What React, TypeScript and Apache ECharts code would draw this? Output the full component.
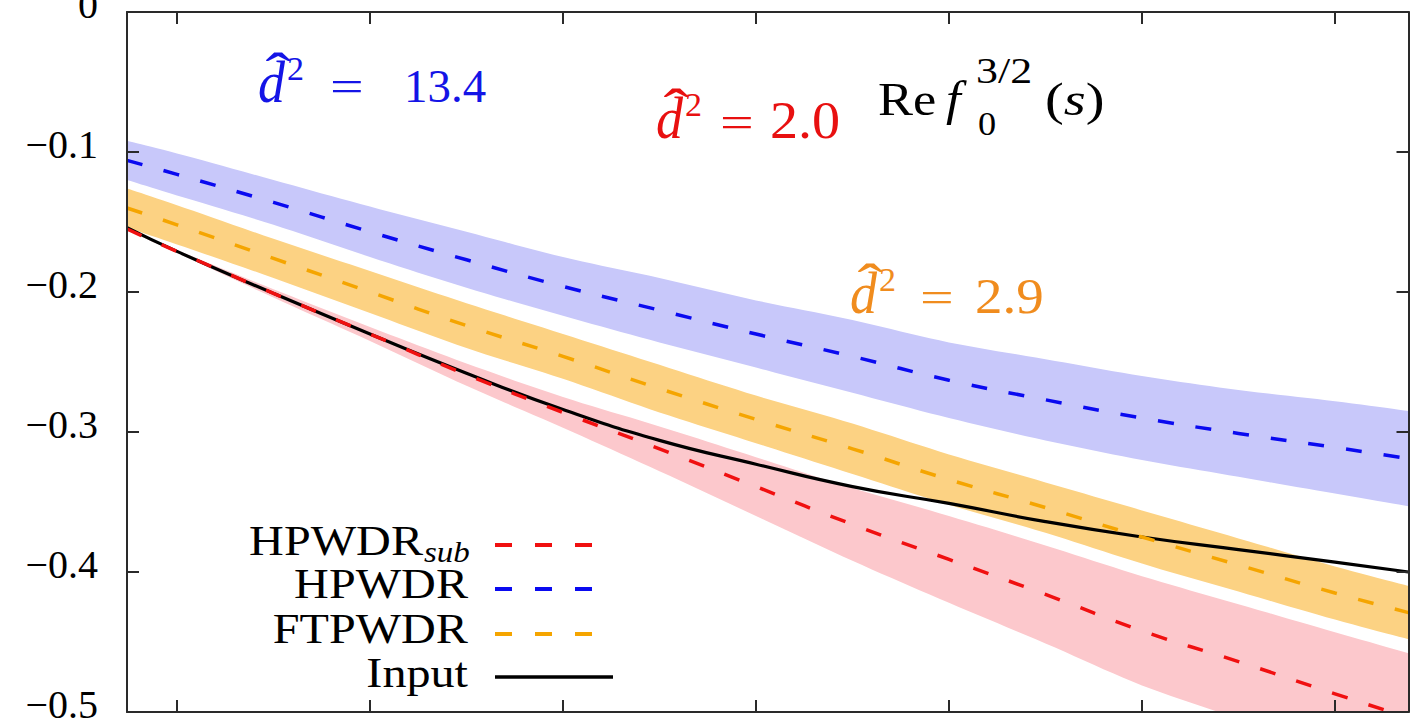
import React, { useEffect, useRef } from "react";
import * as echarts from "echarts";

// ---------- data ----------
const xValues = [0.741, 1, 1.5, 2, 2.5, 3, 3.5, 4, 4.5, 5, 5.5, 6, 6.5, 7, 7.381];
const X_MIN = 0.741;
const X_MAX = 7.381;
const xTicks = [1, 2, 3, 4, 5, 6, 7];
const yTicks = [0, -0.1, -0.2, -0.3, -0.4, -0.5];

const seriesNames = ["HPWDR_sub", "HPWDR", "FTPWDR", "Input"];

const inputCurve = [-0.154, -0.171, -0.201, -0.23, -0.258, -0.284, -0.306, -0.323, -0.339, -0.351, -0.364, -0.375, -0.384, -0.393, -0.4];

const hpwdrSub = [-0.155, -0.171, -0.201, -0.23, -0.259, -0.286, -0.312, -0.339, -0.366, -0.391, -0.416, -0.442, -0.464, -0.487, -0.504];
const hpwdrSubHigh = [-0.154, -0.17, -0.198, -0.225, -0.251, -0.275, -0.296, -0.318, -0.34, -0.36, -0.381, -0.403, -0.423, -0.443, -0.458];
const hpwdrSubLow = [-0.156, -0.172, -0.204, -0.235, -0.267, -0.297, -0.328, -0.36, -0.392, -0.422, -0.451, -0.481, -0.505, -0.531, -0.55];

const hpwdr = [-0.106, -0.116, -0.136, -0.157, -0.177, -0.196, -0.213, -0.23, -0.246, -0.263, -0.277, -0.29, -0.301, -0.311, -0.319];
const hpwdrHigh = [-0.092, -0.101, -0.12, -0.139, -0.157, -0.175, -0.19, -0.206, -0.22, -0.236, -0.248, -0.26, -0.27, -0.278, -0.285];
const hpwdrLow = [-0.12, -0.131, -0.152, -0.175, -0.197, -0.217, -0.236, -0.254, -0.272, -0.29, -0.306, -0.32, -0.332, -0.344, -0.353];

const ftpwdr = [-0.14, -0.152, -0.176, -0.2, -0.224, -0.246, -0.269, -0.291, -0.312, -0.334, -0.354, -0.375, -0.395, -0.415, -0.429];
const ftpwdrHigh = [-0.126, -0.138, -0.162, -0.185, -0.208, -0.23, -0.252, -0.274, -0.294, -0.316, -0.336, -0.356, -0.376, -0.396, -0.41];
const ftpwdrLow = [-0.154, -0.166, -0.19, -0.215, -0.24, -0.262, -0.286, -0.308, -0.33, -0.352, -0.372, -0.394, -0.414, -0.434, -0.448];

const d2Values = ["13.4", "2.0", "2.9"];

// ---------- styling ----------
const SERIF = '"Liberation Serif", "Times New Roman", serif';
const RED = "#f01010";
const BLUE = "#0a0af0";
const ORANGE = "#f5a500";
const BLACK = "#000000";
const AXIS = "#2a2a2a";

const pairs = (arr: number[]) => xValues.map((x, i) => [x, arr[i]]);

// Catmull-Rom resampling of pixel points, so that band edges are smooth
function smoothPts(p: number[][], n = 10): number[][] {
  const out: number[][] = [];
  const L = p.length;
  for (let i = 0; i < L - 1; i++) {
    const p0 = p[Math.max(i - 1, 0)];
    const p1 = p[i];
    const p2 = p[i + 1];
    const p3 = p[Math.min(i + 2, L - 1)];
    for (let s = 0; s < n; s++) {
      const t = s / n;
      const t2 = t * t;
      const t3 = t2 * t;
      const pt = [0, 1].map(
        (k) =>
          0.5 *
          (2 * p1[k] +
            (-p0[k] + p2[k]) * t +
            (2 * p0[k] - 5 * p1[k] + 4 * p2[k] - p3[k]) * t2 +
            (-p0[k] + 3 * p1[k] - 3 * p2[k] + p3[k]) * t3)
      );
      out.push(pt);
    }
  }
  out.push(p[L - 1]);
  return out;
}

function bandSeries(id: string, low: number[], high: number[], color: string) {
  return {
    type: "custom",
    name: id,
    coordinateSystem: "cartesian2d",
    xAxisIndex: 0,
    yAxisIndex: 0,
    data: [[xValues[0], high[0]]],
    clip: true,
    silent: true,
    z: 1,
    renderItem: (params: any, api: any) => {
      const hi = smoothPts(xValues.map((x, i) => api.coord([x, high[i]])));
      const lo = smoothPts(xValues.map((x, i) => api.coord([x, low[i]])));
      const pts = hi.concat(lo.reverse());
      return { type: "polygon", shape: { points: pts }, style: { fill: color } };
    },
  };
}

function txt(
  text: string,
  x: number,
  baseline: number,
  size: number,
  color: string,
  o: { italic?: boolean; align?: string; sx?: number; rich?: any } = {}
) {
  const font = `${o.italic ? "italic " : ""}${size}px ${SERIF}`;
  const align = o.align || "left";
  const style: any = {
    text,
    font,
    fill: color,
    align,
    verticalAlign: "middle",
    textAlign: align,
    textVerticalAlign: "middle",
  };
  if (o.rich) style.rich = o.rich;
  return {
    type: "text",
    x,
    y: baseline - 0.3375 * size,
    scaleX: o.sx ?? 1,
    z: 100,
    style,
  };
}

function d2Label(
  x0: number,
  base: number,
  color: string,
  value: string,
  eqX: number,
  numX: number,
  numSize: number,
  numSx: number
) {
  return [
    txt("d", x0, base, 60, color, { italic: true, sx: 0.9 }),
    txt("\u02C6", x0 + 20, base - 10, 56, color, { align: "center", sx: 1.35 }),
    txt("2", x0 + 29, base - 22, 34, color),
    txt("=", eqX, base, 46, color, { sx: 1.3 }),
    txt(value, numX, base, numSize, color, { sx: numSx }),
  ];
}

function legendLine(y: number, x2: number, color: string, dashed: boolean) {
  return {
    type: "line",
    z: 100,
    shape: { x1: 495, y1: y, x2, y2: y },
    style: { stroke: color, lineWidth: dashed ? 4 : 3.5, lineDash: dashed ? [17, 23] : null },
  };
}

export default function App() {
  const ref = useRef<HTMLDivElement>(null);

  useEffect(() => {
    if (!ref.current) return;
    const chart = echarts.init(ref.current, null, { renderer: "svg" });

    const axisLine = { show: true, onZero: false, lineStyle: { color: AXIS, width: 2 } };
    const tickStyle = { color: AXIS, width: 2 };

    const graphics: any[] = [
      ...d2Label(258, 102, "#1414e6", d2Values[0], 330, 404, 46, 1.02),
      ...d2Label(656, 138, "#e81010", d2Values[1], 720, 770, 52, 1.08),
      ...d2Label(850, 313, "#f08c1e", d2Values[2], 920, 975, 50, 1.1),
      // Re f_0^{3/2}(s)
      txt("Re", 878, 115, 46, BLACK, { sx: 1.14 }),
      txt("f", 946, 115, 48, BLACK, { italic: true, sx: 1.1 }),
      txt("3/2", 976, 83, 36, BLACK, { sx: 1.22 }),
      txt("0", 978, 135, 33, BLACK, { sx: 1.1 }),
      txt("{n|(}{i|s}{n|)}", 1045, 115, 47, BLACK, {
        sx: 1.2,
        rich: {
          n: { font: `47px ${SERIF}`, fill: BLACK },
          i: { font: `italic 47px ${SERIF}`, fill: BLACK },
        },
      }),
      // legend
      txt("HPWDR", 423, 555, 43, BLACK, { align: "right", sx: 1.12 }),
      txt("sub", 424, 562, 30, BLACK, { italic: true, sx: 1.1 }),
      txt(seriesNames[1], 468, 598, 43, BLACK, { align: "right", sx: 1.12 }),
      txt(seriesNames[2], 468, 643, 43, BLACK, { align: "right", sx: 1.12 }),
      txt(seriesNames[3], 468, 687, 43, BLACK, { align: "right", sx: 1.12 }),
      legendLine(545, 592, RED, true),
      legendLine(589, 592, BLUE, true),
      legendLine(634, 592, ORANGE, true),
      legendLine(677, 613, BLACK, false),
    ];

    const option: any = {
      animation: false,
      backgroundColor: "#ffffff",
      grid: { left: 127, right: 1.5, top: 12, bottom: 9, containLabel: false, outerBoundsMode: "none" },
      xAxis: [
        {
          type: "value",
          min: X_MIN,
          max: X_MAX,
          position: "bottom",
          z: 10,
          axisLine,
          axisTick: { show: true, inside: true, length: 12, customValues: xTicks, lineStyle: tickStyle },
          axisLabel: { show: false },
          splitLine: { show: false },
        },
        {
          type: "value",
          min: X_MIN,
          max: X_MAX,
          position: "top",
          z: 10,
          axisLine,
          axisTick: { show: true, inside: true, length: 12, customValues: xTicks, lineStyle: tickStyle },
          axisLabel: { show: false },
          splitLine: { show: false },
        },
      ],
      yAxis: [
        {
          type: "value",
          min: yTicks[yTicks.length - 1],
          max: yTicks[0],
          interval: 0.1,
          position: "left",
          z: 10,
          axisLine,
          axisTick: { show: true, inside: true, length: 12, lineStyle: tickStyle },
          axisLabel: {
            show: true,
            color: "#000",
            fontFamily: SERIF,
            fontSize: 40,
            margin: 29,
            verticalAlign: "bottom",
            lineHeight: 15,
            formatter: (v: number) => (Math.abs(v) < 1e-9 ? "0" : "\u2212" + Math.abs(v).toFixed(1)),
          },
          splitLine: { show: false },
        },
        {
          type: "value",
          min: yTicks[yTicks.length - 1],
          max: yTicks[0],
          interval: 0.1,
          position: "right",
          z: 10,
          axisLine,
          axisTick: { show: true, inside: true, length: 12, lineStyle: tickStyle },
          axisLabel: { show: false },
          splitLine: { show: false },
        },
      ],
      series: [
        bandSeries("blueBand", hpwdrLow, hpwdrHigh, "#c8c8fa"),
        bandSeries("orangeBand", ftpwdrLow, ftpwdrHigh, "#fcd283"),
        bandSeries("redBand", hpwdrSubLow, hpwdrSubHigh, "#fcc8cc"),
        {
          type: "line",
          name: seriesNames[3],
          data: pairs(inputCurve),
          smooth: true,
          symbol: "none",
          lineStyle: { color: BLACK, width: 3.2 },
          z: 3,
        },
        {
          type: "line",
          name: seriesNames[0],
          data: pairs(hpwdrSub),
          smooth: true,
          symbol: "none",
          lineStyle: { color: RED, width: 3.5, type: [16, 22] },
          z: 4,
        },
        {
          type: "line",
          name: seriesNames[1],
          data: pairs(hpwdr),
          smooth: true,
          symbol: "none",
          lineStyle: { color: BLUE, width: 3.5, type: [16, 22] },
          z: 4,
        },
        {
          type: "line",
          name: seriesNames[2],
          data: pairs(ftpwdr),
          smooth: true,
          symbol: "none",
          lineStyle: { color: ORANGE, width: 3.5, type: [16, 22] },
          z: 4,
        },
      ],
      graphic: { elements: graphics },
    };

    chart.setOption(option);
    return () => chart.dispose();
  }, []);

  return (
    <div
      ref={ref}
      style={{ position: "fixed", left: 0, top: 0, width: 1410, height: 721, background: "#fff" }}
    />
  );
}
